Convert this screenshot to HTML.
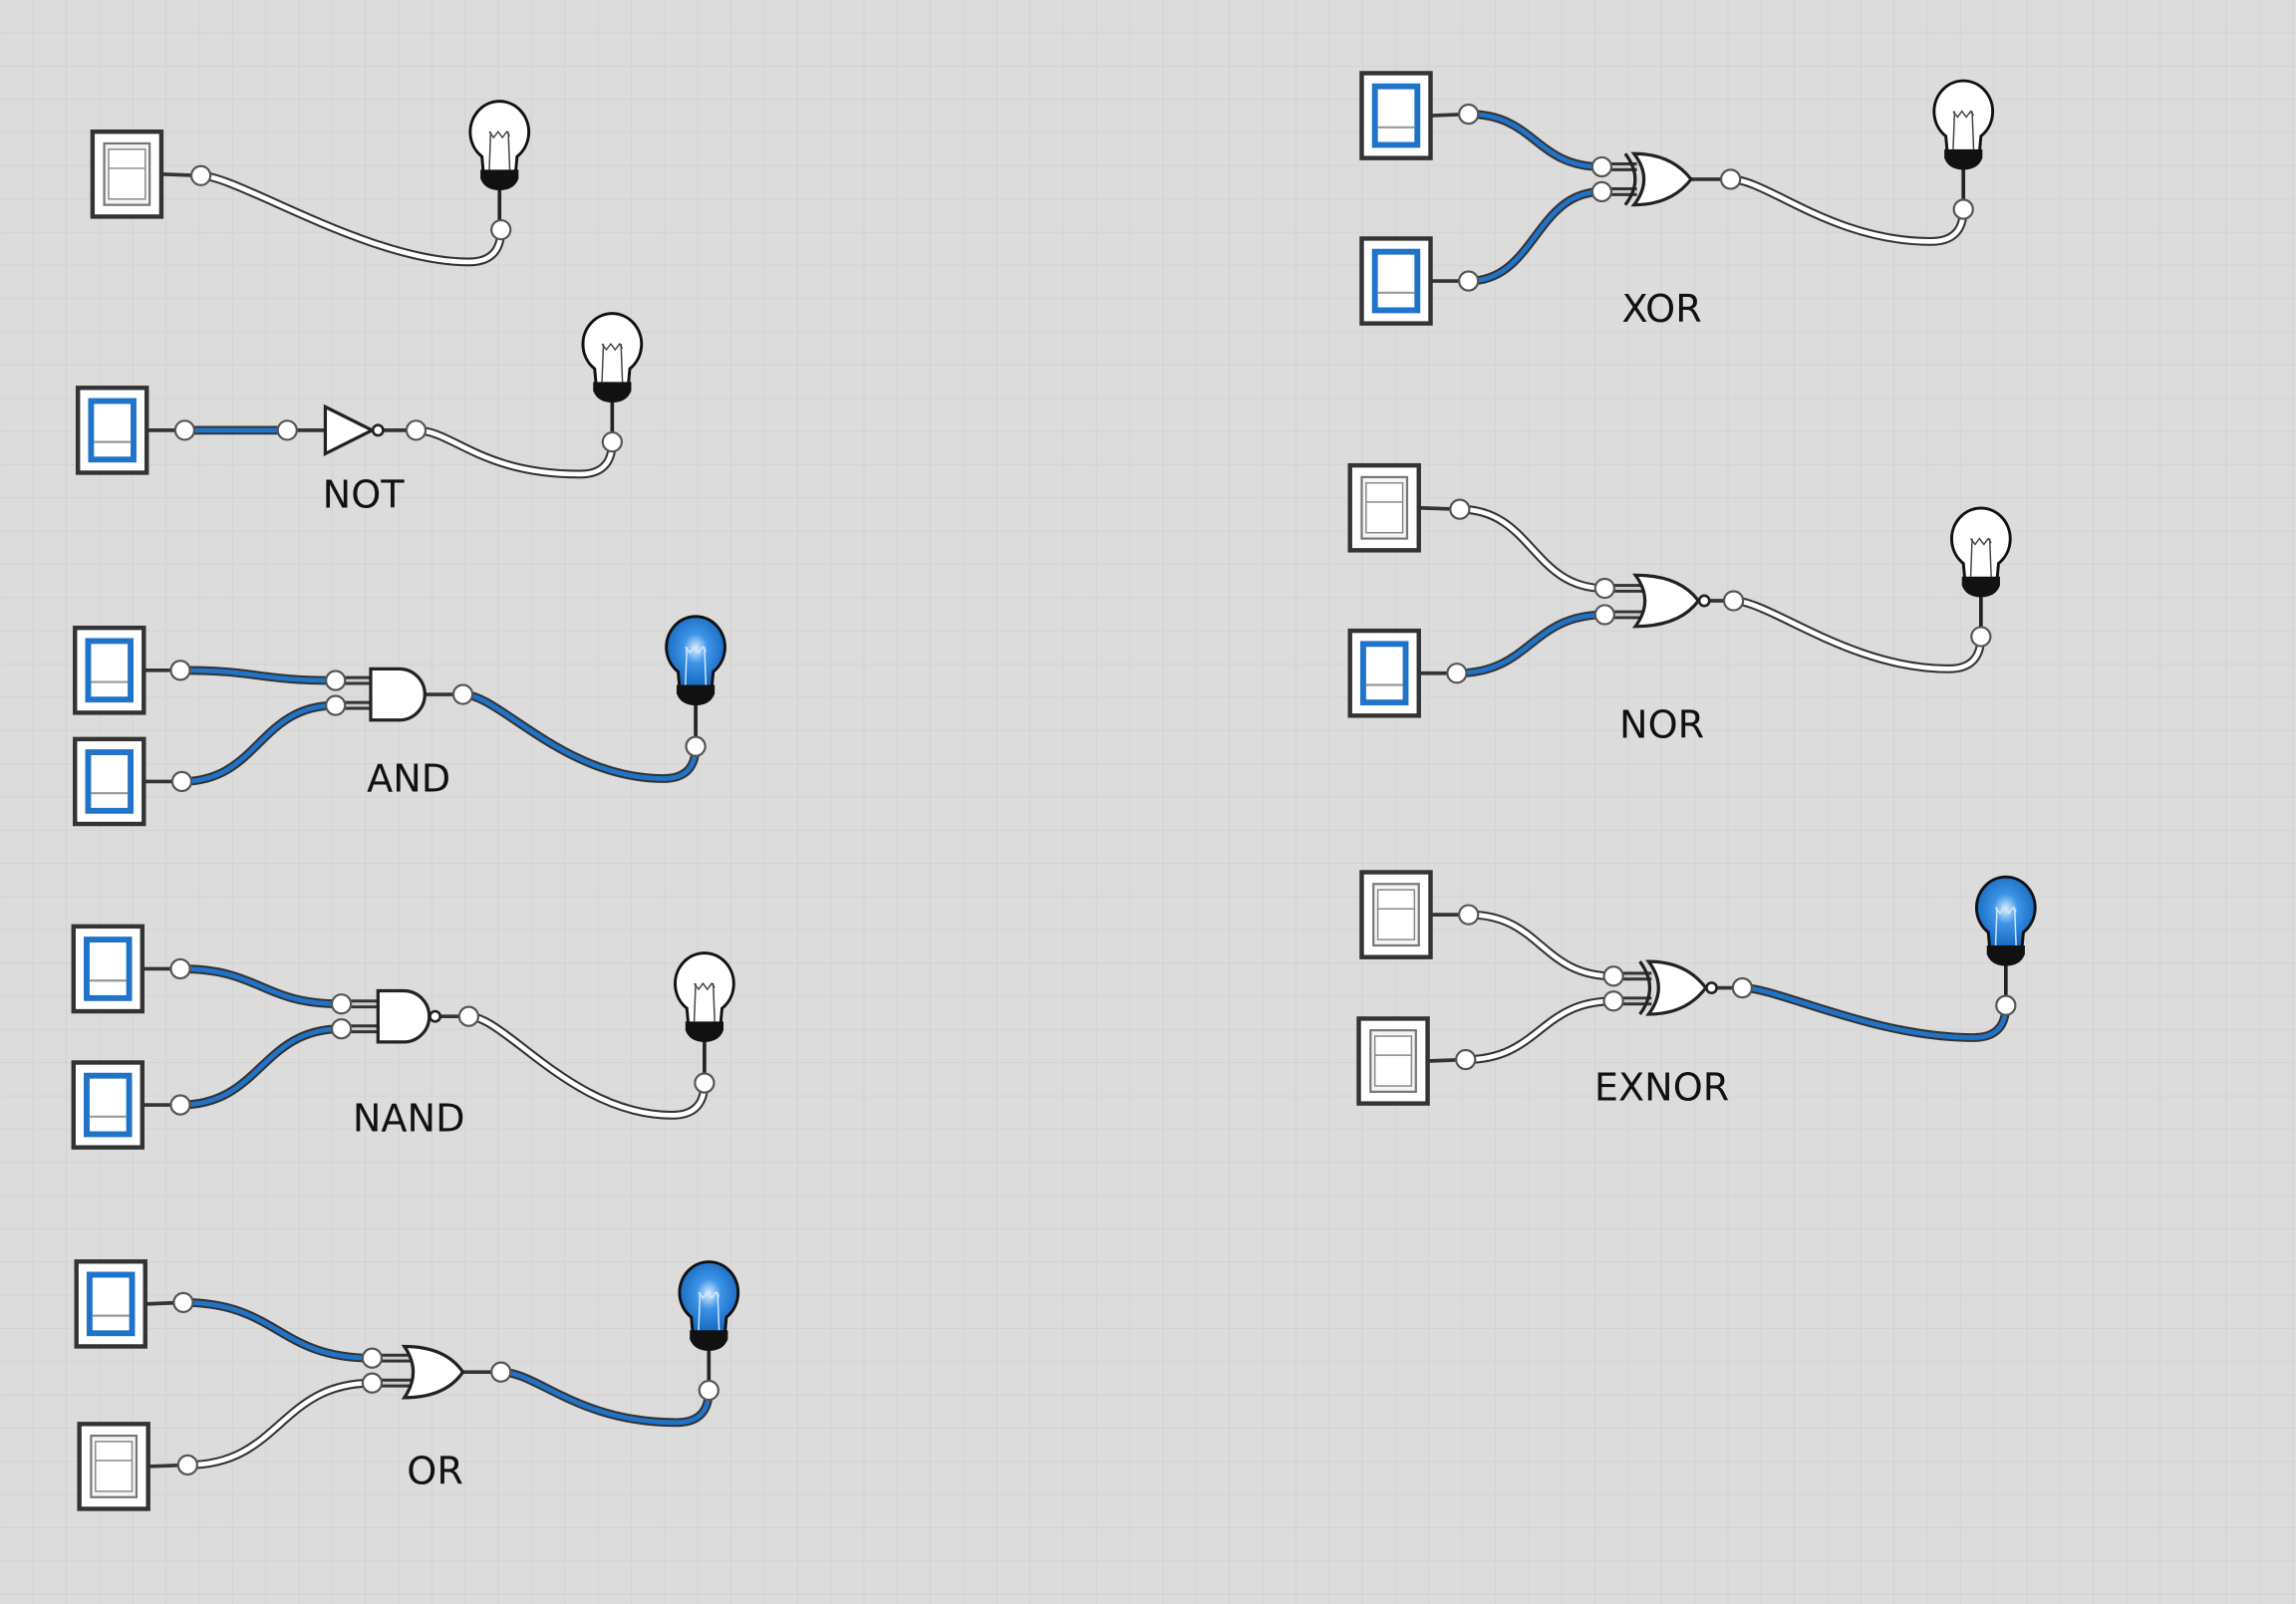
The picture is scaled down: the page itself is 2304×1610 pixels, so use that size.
<!DOCTYPE html>
<html><head><meta charset="utf-8"><style>
html,body{margin:0;padding:0;background:#dcdcdc}
svg{display:block}
text{font-family:"DejaVu Sans","Liberation Sans",sans-serif;font-size:26px;fill:#111}
</style></head><body>
<svg id="s" width="2304" height="1610" viewBox="0 0 1568 1096" xmlns="http://www.w3.org/2000/svg">
<defs>
<pattern id="g" width="22.7" height="22.7" patternUnits="userSpaceOnUse">
<path d="M22.7 0V22.7H0" fill="none" stroke="#cfcfcf" stroke-width="1"/>
</pattern>
<radialGradient id="bl" cx="0.5" cy="0.45" r="0.6"><stop offset="0" stop-color="#dff0ff"/><stop offset="0.35" stop-color="#3d94e6"/><stop offset="1" stop-color="#0d5fb8"/></radialGradient>
</defs>
<rect width="1568" height="1096" fill="#dcdcdc"/>
<rect width="1568" height="1096" fill="url(#g)"/>
<g id="c"></g>
<text x="248" y="347" text-anchor="middle">NOT</text>
<text x="279" y="541" text-anchor="middle">AND</text>
<text x="279" y="773" text-anchor="middle">NAND</text>
<text x="297" y="1014" text-anchor="middle">OR</text>
<text x="1135" y="220" text-anchor="middle">XOR</text>
<text x="1135" y="504" text-anchor="middle">NOR</text>
<text x="1135" y="752" text-anchor="middle">EXNOR</text>
</svg>
<script>
var o='';
var BL='#1f73c9';
function sw(x,y,on,px,py){
 o+=`<line x1="${x+47}" y1="${y+29}" x2="${px}" y2="${py}" stroke="#333" stroke-width="2.5"/>`;
 o+=`<rect x="${x}" y="${y}" width="47" height="58" fill="#fff" stroke="#333" stroke-width="3"/>`;
 if(on){o+=`<rect x="${x+9}" y="${y+9}" width="29" height="40" fill="#fff" stroke="${BL}" stroke-width="4"/><line x1="${x+11}" y1="${y+37}" x2="${x+36}" y2="${y+37}" stroke="#999" stroke-width="1.5"/>`;}
 else{o+=`<rect x="${x+8}" y="${y+8}" width="31" height="42" fill="#f4f4f4" stroke="#777" stroke-width="1.5"/><rect x="${x+11}" y="${y+12}" width="25" height="34" fill="#fff" stroke="#888" stroke-width="1"/><line x1="${x+11}" y1="${y+25}" x2="${x+36}" y2="${y+25}" stroke="#888" stroke-width="1"/>`;}
}
function wire(d,on){
 o+=`<path d="${d}" fill="none" stroke="#333" stroke-width="6" stroke-linecap="round"/><path d="${d}" fill="none" stroke="${on?BL:'#fff'}" stroke-width="3.2" stroke-linecap="round"/>`;
}
function pin(x,y){o+=`<circle cx="${x}" cy="${y}" r="6.5" fill="#fff" stroke="#555" stroke-width="1.5"/>`;}
function sc(x1,y1,x2,y2){var m=(x1+x2)/2;return `M${x1} ${y1}C${m} ${y1} ${m} ${y2} ${x2} ${y2}`;}
function ob(x1,y1,bx,by){return `M${x1} ${y1}C${x1+25} ${y1} ${bx-90} ${by+22} ${bx-22} ${by+22}Q${bx} ${by+22} ${bx} ${by}`;}
function bulb(cx,top,on,py){
 var cy=top+22;
 o+=`<line x1="${cx}" y1="${top+55}" x2="${cx}" y2="${py}" stroke="#222" stroke-width="2.5"/>`;
 o+=`<path d="M${cx-12} ${cy+15} A20 21 0 1 1 ${cx+12} ${cy+15} L${cx+11} ${cy+26} H${cx-11} Z" fill="${on?'url(#bl)':'#fff'}" stroke="#111" stroke-width="2"/>`;
 o+=`<path d="M${cx-7} ${cy+24} L${cx-6} ${cy-2} M${cx+7} ${cy+24} L${cx+6} ${cy-2} M${cx-7} ${cy-2} l3 4 l3 -4 l3 4 l3 -4 l2 3" fill="none" stroke="${on?'#cfe8ff':'#444'}" stroke-width="1"/>`;
 o+=`<path d="M${cx-13} ${cy+24} H${cx+13} V${cy+30} Q${cx+10} ${cy+38} ${cx} ${cy+38} Q${cx-10} ${cy+38} ${cx-13} ${cy+30} Z" fill="#111"/>`;
}
function gate(type,x,y,w,h,i1,i2,out){
 var st=s=>o+=s;
 var bub=(type=='nand'||type=='nor'||type=='xnor'||type=='not');
 var ox=x+w+(bub?8:0);
 st(`<line x1="${ox}" y1="${y+h/2}" x2="${out}" y2="${y+h/2}" stroke="#333" stroke-width="2.5"/>`);
 if(i2!==null){
  st(`<line x1="${i1[0]}" y1="${i1[1]}" x2="${x+8}" y2="${i1[1]}" stroke="#333" stroke-width="6"/><line x1="${i1[0]}" y1="${i1[1]}" x2="${x+8}" y2="${i1[1]}" stroke="#ccc" stroke-width="2"/>`);
  st(`<line x1="${i2[0]}" y1="${i2[1]}" x2="${x+8}" y2="${i2[1]}" stroke="#333" stroke-width="6"/><line x1="${i2[0]}" y1="${i2[1]}" x2="${x+8}" y2="${i2[1]}" stroke="#ccc" stroke-width="2"/>`);
 }
 var d;
 if(type=='and'||type=='nand') d=`M${x} ${y}H${x+w-h/2}A${h/2} ${h/2} 0 0 1 ${x+w-h/2} ${y+h}H${x}Z`;
 else if(type=='not') d=`M${x} ${y}L${x+w} ${y+h/2}L${x} ${y+h}Z`;
 else { var xx=(type=='xor'||type=='xnor')?x+6:x; d=`M${xx} ${y}Q${xx+w*0.3} ${y+h/2} ${xx} ${y+h}Q${x+w*0.7} ${y+h} ${x+w} ${y+h/2}Q${x+w*0.7} ${y} ${xx} ${y}Z`;}
 st(`<path d="${d}" fill="#fff" stroke="#222" stroke-width="2.2"/>`);
 if(type=='xor'||type=='xnor') st(`<path d="M${x} ${y}Q${x+w*0.3} ${y+h/2} ${x} ${y+h}" fill="none" stroke="#222" stroke-width="2.2"/>`);
 if(bub) st(`<circle cx="${x+w+4}" cy="${y+h/2}" r="3.5" fill="#fff" stroke="#222" stroke-width="1.8"/>`);
}
function circ2(type,s1,s2,p1,p2,g,gi,out,b,bon){
 sw(s1[0],s1[1],s1[2],p1[0],p1[1]); sw(s2[0],s2[1],s2[2],p2[0],p2[1]);
 wire(sc(p1[0],p1[1],gi[0],gi[1]),s1[2]);
 wire(sc(p2[0],p2[1],gi[0],gi[2]),s2[2]);
 gate(type,g[0],g[1],g[2],g[3],[gi[0],gi[1]],[gi[0],gi[2]],out);
 wire(ob(out,g[1]+g[3]/2,b[0],b[2]),bon);
 bulb(b[0],b[1],bon,b[2]);
 pin(p1[0],p1[1]);pin(p2[0],p2[1]);pin(gi[0],gi[1]);pin(gi[0],gi[2]);pin(out,g[1]+g[3]/2);pin(b[0],b[2]);
}
sw(63,90,false,137,120);
wire(ob(137,120,342,157),false);
bulb(341,70,false,157);
pin(137,120);pin(342,157);
sw(53,265,true,126,294);
wire('M126 294H196',true);
o+=`<line x1="196" y1="294" x2="222" y2="294" stroke="#333" stroke-width="2.5"/>`;
gate('not',222,278,32,32,null,null,284);
wire(ob(284,294,418,302),false);
bulb(418,215,false,302);
pin(126,294);pin(196,294);pin(284,294);pin(418,302);
circ2('and',[51,429,true],[51,505,true],[123,458],[124,534],[253,457,37,35],[229,465,482],316,[475,422,510],true);
circ2('nand',[50,633,true],[50,726,true],[123,662],[123,755],[258,677,35,35],[233,686,703],320,[481,652,740],false);
circ2('or',[52,862,true],[54,973,false],[125,890],[128,1001],[276,920,40,35],[254,928,945],342,[484,863,950],true);
circ2('xor',[930,50,true],[930,163,true],[1003,78],[1003,192],[1110,105,45,35],[1094,114,131],1182,[1341,56,143],false);
circ2('nor',[922,318,false],[922,431,true],[997,348],[995,460],[1117,393,43,35],[1096,402,420],1184,[1353,348,435],false);
circ2('xnor',[930,596,false],[928,696,false],[1003,625],[1001,724],[1120,657,45,36],[1102,667,684],1190,[1370,600,687],true);
document.getElementById('c').innerHTML=o;
</script>
</body></html>
